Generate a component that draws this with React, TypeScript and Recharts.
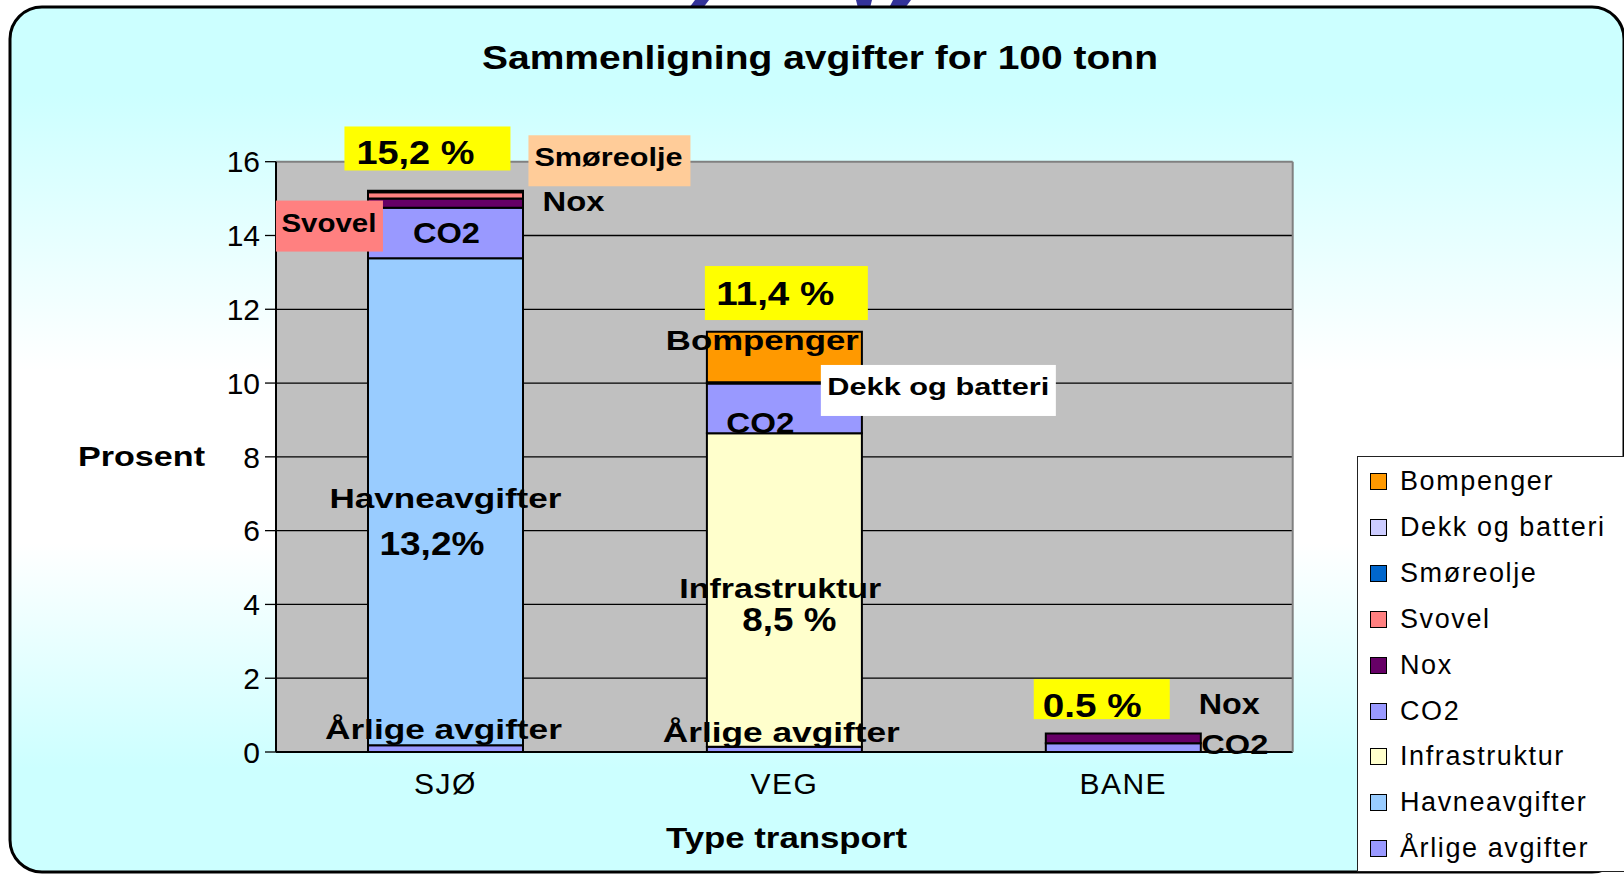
import React from "react";
import { BarChart, Bar, XAxis, YAxis, CartesianGrid, ReferenceDot } from "recharts";

const categories = ["SJØ", "VEG", "BANE"];

// stacked from bottom to top
const arligeAvgifter = [0.18, 0.14, 0];
const havneavgifter = [13.2, 0, 0];
const infrastruktur = [0, 8.5, 0];
const co2 = [1.37, 1.35, 0.24];
const nox = [0.25, 0, 0.26];
const svovel = [0.17, 0, 0];
const smoreolje = [0.04, 0, 0];
const dekkOgBatteri = [0, 0.03, 0];
const bompenger = [0, 1.37, 0];

const yTicks = [0, 2, 4, 6, 8, 10, 12, 14, 16];

const series = [
  { key: "arlige", name: "Årlige avgifter", values: arligeAvgifter, color: "#9999FF" },
  { key: "havne", name: "Havneavgifter", values: havneavgifter, color: "#99CCFF" },
  { key: "infra", name: "Infrastruktur", values: infrastruktur, color: "#FFFFCC" },
  { key: "co2", name: "CO2", values: co2, color: "#9999FF" },
  { key: "nox", name: "Nox", values: nox, color: "#660066" },
  { key: "svovel", name: "Svovel", values: svovel, color: "#FF8080" },
  { key: "smore", name: "Smøreolje", values: smoreolje, color: "#0066CC" },
  { key: "dekk", name: "Dekk og batteri", values: dekkOgBatteri, color: "#CCCCFF" },
  { key: "bom", name: "Bompenger", values: bompenger, color: "#FF9900" },
];

const data = categories.map((c, i) => {
  const row: Record<string, string | number> = { cat: c };
  series.forEach((s) => (row[s.key] = s.values[i]));
  return row;
});

// text labels placed on the chart (anchored to category + value)
type Note = {
  cat: string;
  v: number;
  dx: number;
  text: string;
  size: number;
  len: number;
  box?: { w: number; h: number; dx: number; dy: number; fill: string };
};

const notes: Note[] = [
  { cat: "SJØ", v: 16.25, dx: -30, text: "15,2 %", size: 34, len: 118, box: { w: 166, h: 44, dx: 12, dy: -4, fill: "#FFFF00" } },
  { cat: "SJØ", v: 16.12, dx: 163, text: "Smøreolje", size: 25, len: 148, box: { w: 162, h: 51, dx: 1, dy: 3.5, fill: "#FFCC99" } },
  { cat: "SJØ", v: 14.91, dx: 128, text: "Nox", size: 27, len: 62 },
  { cat: "SJØ", v: 14.35, dx: -116.5, text: "Svovel", size: 25, len: 95, box: { w: 107, h: 51, dx: 0.5, dy: 3.5, fill: "#FF8080" } },
  { cat: "SJØ", v: 14.08, dx: 1, text: "CO2", size: 30, len: 67 },
  { cat: "SJØ", v: 6.86, dx: 0, text: "Havneavgifter", size: 28, len: 232 },
  { cat: "SJØ", v: 5.64, dx: -13.5, text: "13,2%", size: 33, len: 105 },
  { cat: "SJØ", v: 0.62, dx: -2, text: "Årlige avgifter", size: 28, len: 237 },
  { cat: "VEG", v: 12.44, dx: -9, text: "11,4 %", size: 33, len: 118, box: { w: 163, h: 54, dx: 11, dy: 0, fill: "#FFFF00" } },
  { cat: "VEG", v: 11.14, dx: -22, text: "Bompenger", size: 27, len: 193 },
  { cat: "VEG", v: 9.9, dx: 154, text: "Dekk og batteri", size: 23, len: 222, box: { w: 235, h: 51, dx: 0, dy: 3.7, fill: "#FFFFFF" } },
  { cat: "VEG", v: 8.92, dx: -24, text: "CO2", size: 30, len: 68 },
  { cat: "VEG", v: 4.42, dx: -4, text: "Infrastruktur", size: 28, len: 202 },
  { cat: "VEG", v: 3.6, dx: 5, text: "8,5 %", size: 33, len: 94 },
  { cat: "VEG", v: 0.52, dx: -3, text: "Årlige avgifter", size: 28, len: 237 },
  { cat: "BANE", v: 1.27, dx: -31, text: "0.5 %", size: 33, len: 99, box: { w: 136, h: 40, dx: 9.5, dy: -6, fill: "#FFFF00" } },
  { cat: "BANE", v: 1.31, dx: 106, text: "Nox", size: 29, len: 61 },
  { cat: "BANE", v: 0.2, dx: 111.6, text: "CO2", size: 27, len: 67 },
];

const FONT = "'Liberation Sans', Arial, sans-serif";

const noteShape = (n: Note) => (p: any) => {
  const x = p.cx + n.dx;
  const y = p.cy;
  return (
    <g>
      {n.box && (
        <rect
          x={x + n.box.dx - n.box.w / 2}
          y={y + n.box.dy - n.box.h / 2}
          width={n.box.w}
          height={n.box.h}
          fill={n.box.fill}
        />
      )}
      <text
        x={x}
        y={y}
        textAnchor="middle"
        dominantBaseline="central"
        fontFamily={FONT}
        fontWeight="bold"
        fontSize={n.size}
        fill="#000"
        textLength={n.len}
        lengthAdjust="spacingAndGlyphs"
      >
        {n.text}
      </text>
    </g>
  );
};

function Background() {
  return (
    <svg width={1624} height={874} style={{ position: "absolute", left: 0, top: 0 }}>
      <defs>
        <linearGradient id="bg" x1="0" y1="0" x2="0" y2="1">
          <stop offset="0" stopColor="#CCFFFF" />
          <stop offset="0.1" stopColor="#CCFFFF" />
          <stop offset="0.42" stopColor="#FFFFFF" />
          <stop offset="0.62" stopColor="#FFFFFF" />
          <stop offset="0.88" stopColor="#CCFFFF" />
          <stop offset="1" stopColor="#CCFFFF" />
        </linearGradient>
      </defs>
      <rect x={0} y={0} width={1624} height={874} fill="#fff" />
      {/* cut-off heading letters above the frame */}
      <path d="M695 0 L709 0 L703 8 L689 8 Z" fill="#333399" />
      <path d="M856 0 L872 0 L870 8 L858 8 Z" fill="#333399" />
      <path d="M893 0 L911 0 L905 8 L889 8 Z" fill="#333399" />
      <rect x={10} y={7} width={1614} height={865} rx={32} fill="url(#bg)" stroke="#000" strokeWidth={3} />
      <text
        x={820}
        y={57}
        textAnchor="middle"
        dominantBaseline="central"
        fontFamily={FONT}
        fontWeight="bold"
        fontSize={34}
        textLength={676}
        lengthAdjust="spacingAndGlyphs"
      >
        Sammenligning avgifter for 100 tonn
      </text>
      <text
        x={141.5}
        y={456}
        textAnchor="middle"
        dominantBaseline="central"
        fontFamily={FONT}
        fontWeight="bold"
        fontSize={28}
        textLength={127}
        lengthAdjust="spacingAndGlyphs"
      >
        Prosent
      </text>
      <text
        x={786.5}
        y={837}
        textAnchor="middle"
        dominantBaseline="central"
        fontFamily={FONT}
        fontWeight="bold"
        fontSize={30}
        textLength={241}
        lengthAdjust="spacingAndGlyphs"
      >
        Type transport
      </text>
    </svg>
  );
}

function LegendBox() {
  const items = [...series].reverse();
  return (
    <div
      style={{
        position: "absolute",
        left: 1357,
        top: 456,
        width: 300,
        height: 416,
        border: "1.5px solid #222",
        background: "#fff",
        boxSizing: "border-box",
        fontFamily: FONT,
      }}
    >
      {items.map((s, i) => (
        <div
          key={s.key}
          style={{
            position: "absolute",
            left: 12,
            top: 24.5 + i * 45.9 - 16,
            height: 32,
            display: "flex",
            alignItems: "center",
            whiteSpace: "nowrap",
          }}
        >
          <span
            style={{
              width: 15,
              height: 15,
              background: s.color,
              border: "1.5px solid #000",
              display: "inline-block",
              marginRight: 13,
            }}
          />
          <span style={{ fontSize: 27, letterSpacing: 1.6, color: "#000" }}>{s.name}</span>
        </div>
      ))}
    </div>
  );
}

export default function App() {
  return (
    <div style={{ position: "absolute", left: 0, top: 0, width: 1624, height: 874, overflow: "hidden" }}>
      <Background />
      <div style={{ position: "absolute", left: 0, top: 0 }}>
        <BarChart
          width={1624}
          height={874}
          data={data}
          margin={{ top: 160.7, left: 216, right: 330.3, bottom: 81 }}
          barSize={155}
        >
          <CartesianGrid
            horizontal
            vertical={false}
            stroke="#000"
            strokeWidth={1.3}
            fill="#C0C0C0"
            fillOpacity={1}
            horizontalValues={[2, 4, 6, 8, 10, 12, 14]}
          />
          <XAxis
            xAxisId="top"
            orientation="top"
            type="number"
            domain={[0, 3]}
            height={1}
            tick={false}
            tickLine={false}
            axisLine={{ stroke: "#808080", strokeWidth: 2 }}
          />
          <XAxis
            xAxisId="edges"
            type="number"
            domain={[0, 3]}
            ticks={[0, 1, 2, 3]}
            height={1}
            tick={false}
            tickSize={11}
            tickLine={{ stroke: "#000", strokeWidth: 1.3 }}
            axisLine={false}
          />
          <XAxis
            dataKey="cat"
            height={40}
            tickLine={false}
            tickSize={0}
            tickMargin={21}
            axisLine={{ stroke: "#000", strokeWidth: 2 }}
            tick={{ fill: "#000", fontSize: 30, fontFamily: FONT, letterSpacing: 1.5 }}
          />
          <YAxis
            domain={[0, 16]}
            ticks={yTicks}
            width={60}
            interval={0}
            tickSize={11}
            tickMargin={5}
            tickLine={{ stroke: "#000", strokeWidth: 1.3 }}
            axisLine={{ stroke: "#000", strokeWidth: 2 }}
            tick={{ fill: "#000", fontSize: 30, fontFamily: FONT }}
          />
          <YAxis
            yAxisId="right"
            orientation="right"
            type="number"
            domain={[0, 16]}
            width={1}
            tick={false}
            tickLine={false}
            axisLine={{ stroke: "#808080", strokeWidth: 2 }}
          />
          {series.map((s) => (
            <Bar
              key={s.key}
              dataKey={s.key}
              name={s.name}
              stackId="a"
              fill={s.color}
              stroke="#000"
              strokeWidth={2}
              isAnimationActive={false}
            />
          ))}
          {notes.map((n, i) => (
            <ReferenceDot
              key={i}
              x={n.cat}
              y={n.v}
              r={1}
              ifOverflow="visible"
              shape={noteShape(n)}
            />
          ))}
        </BarChart>
      </div>
      <LegendBox />
    </div>
  );
}
